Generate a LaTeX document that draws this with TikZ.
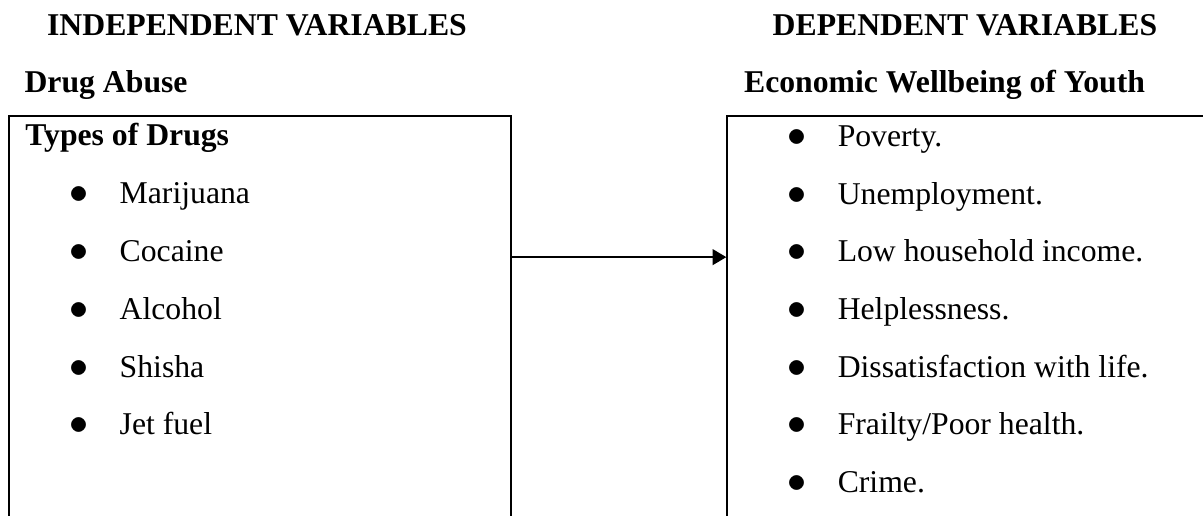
\documentclass[tikz,border=0pt]{standalone}
\usepackage{fontspec}
\setmainfont{Liberation Serif}
\usepackage{tikz}
\usetikzlibrary{positioning, arrows.meta}

\newcommand{\bulletitem}[1]{\makebox[0pt][c]{\fontsize{14}{14}\selectfont$\bullet$}\hspace{0.545cm}#1}

\begin{document}
\begin{tikzpicture}[
    font=\fontsize{12}{14}\selectfont,
    varbox/.style={rectangle, draw, line width=0.8pt, anchor=north west, minimum height=6cm},
    heading/.style={anchor=base west, inner sep=0pt, font=\fontsize{12}{14}\selectfont\bfseries},
    item/.style={anchor=base west, inner sep=0pt}
]
    \useasboundingbox (0,0) rectangle (16,-6.85);

    % Headings
    \node[heading] (indep) at (0.62,-0.47) {INDEPENDENT VARIABLES};
    \node[heading] (dep) at (10.27,-0.47) {DEPENDENT VARIABLES};
    \node[heading] (abuse) at (0.32,-1.23) {Drug Abuse};
    \node[heading] (econ) at (9.89,-1.23) {Economic Wellbeing of Youth};

    % Boxes (open at the bottom of the page)
    \node[varbox, minimum width=6.674cm] (drugs) at (0.106,-1.53) {};
    \node[varbox, minimum width=7cm] (wellbeing) at (9.66,-1.53) {};

    % Independent variables
    \node[heading] (types) at (0.33,-1.93) {Types of Drugs};
    \node[item] (marijuana) at (1.04,-2.71) {\bulletitem{Marijuana}};
    \node[item] (cocaine) at (1.04,-3.48) {\bulletitem{Cocaine}};
    \node[item] (alcohol) at (1.04,-4.25) {\bulletitem{Alcohol}};
    \node[item] (shisha) at (1.04,-5.02) {\bulletitem{Shisha}};
    \node[item] (jetfuel) at (1.04,-5.78) {\bulletitem{Jet fuel}};

    % Dependent variables
    \node[item] (poverty) at (10.59,-1.95) {\bulletitem{Poverty.}};
    \node[item] (unemp) at (10.59,-2.72) {\bulletitem{Unemployment.}};
    \node[item] (income) at (10.59,-3.48) {\bulletitem{Low household income.}};
    \node[item] (helpless) at (10.59,-4.25) {\bulletitem{Helplessness.}};
    \node[item] (dissat) at (10.59,-5.02) {\bulletitem{Dissatisfaction with life.}};
    \node[item] (frailty) at (10.59,-5.78) {\bulletitem{Frailty/Poor health.}};
    \node[item] (crime) at (10.59,-6.55) {\bulletitem{Crime.}};

    % Connection
    \draw[-{Triangle[length=5.2pt, width=6pt]}, line width=0.6pt]
        ([yshift=-1.89cm]drugs.north east) -- ([yshift=-1.89cm]wellbeing.north west);
\end{tikzpicture}
\end{document}
